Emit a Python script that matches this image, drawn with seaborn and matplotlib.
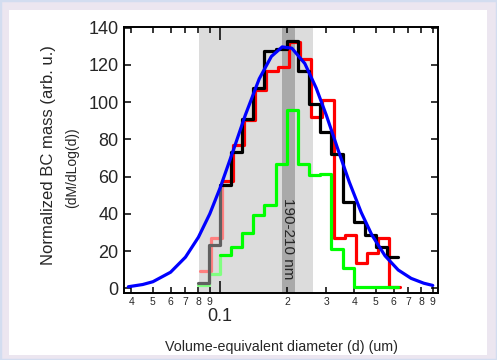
import numpy as np
import pandas as pd
import matplotlib
matplotlib.use("Agg")
import matplotlib.pyplot as plt
import seaborn as sns
from matplotlib.ticker import FixedLocator, FixedFormatter
from matplotlib.patches import Rectangle

# ---------------- data ----------------
bin_edges = [0.0794, 0.0891, 0.1, 0.112, 0.126, 0.141, 0.158, 0.178, 0.2,
             0.224, 0.251, 0.282, 0.316, 0.355, 0.398, 0.447, 0.501, 0.562, 0.631]
red_bin_edges = [0.081, 0.091, 0.102, 0.1145, 0.1285, 0.144, 0.1615, 0.1815,
                 0.204, 0.229, 0.256, 0.288, 0.323, 0.362, 0.406, 0.456,
                 0.511, 0.573, 0.643]
black_vals = [2.7, 23.0, 55.4, 73.4, 91.1, 107.8, 127.4, 128.5, 133.0, 117.0,
              99.2, 84.0, 72.4, 46.1, 35.7, 28.6, 22.3, 16.6]
red_vals = [9.3, 26.8, 57.7, 76.8, 90.2, 106.3, 117.0, 118.8, 132.2, 123.3,
            92.0, 101.0, 26.8, 28.6, 13.4, 19.1, 26.8, 0.9]
green_vals = [1.8, 7.5, 17.9, 22.0, 29.8, 39.3, 44.7, 66.6, 95.6, 67.0,
              60.7, 61.6, 21.0, 10.7, 0.5, 0.5, 0.5, 0.5]
n_faded_bins = 2

fit_d = [0.0388, 0.045, 0.05, 0.06, 0.07, 0.08, 0.09, 0.1, 0.115, 0.13, 0.15,
         0.17, 0.19, 0.21, 0.24, 0.27, 0.30, 0.34, 0.38, 0.43, 0.48, 0.55,
         0.63, 0.72, 0.82, 0.90]
fit_vals = [0.8, 2.0, 3.5, 8.6, 16.7, 27.4, 40.0, 53.8, 74.5, 93.2, 112.6,
            124.6, 129.7, 129.0, 120.8, 107.6, 92.9, 73.7, 57.1, 40.7, 28.6,
            17.4, 9.8, 5.3, 2.7, 1.5]

wide_band = [0.0805, 0.262]
narrow_band = [0.189, 0.217]
band_label = "190-210 nm"

y_ticks = [0, 20, 40, 60, 80, 100, 120, 140]
major_x_ticks = [0.1]
major_x_labels = ["0.1"]
minor_x_ticks = [0.04, 0.05, 0.06, 0.07, 0.08, 0.09,
                 0.2, 0.3, 0.4, 0.5, 0.6, 0.7, 0.8, 0.9]
minor_x_labels = ["4", "5", "6", "7", "8", "9",
                  "2", "3", "4", "5", "6", "7", "8", "9"]

x_label = "Volume-equivalent diameter (d) (um)"
y_label_1 = "Normalized BC mass (arb. u.)"
y_label_2 = "(dM/dLog(d))"

# ---------------- figure ----------------
sns.set_style("ticks")
plt.rcParams["font.family"] = ["Liberation Sans", "DejaVu Sans"]

W, H = 497, 360
fig = plt.figure(figsize=(W / 100, H / 100), dpi=100)
fig.patch.set_facecolor("#ECE6F0")
fig.patches.append(Rectangle((0, 0), 1, 1, transform=fig.transFigure,
                             facecolor="none", edgecolor="#D3DDF0", lw=2.5,
                             zorder=-10))
fig.patches.append(Rectangle((9 / W, 1 - 355 / H), 478 / W, 345 / H,
                             transform=fig.transFigure, facecolor="white",
                             edgecolor="none", zorder=-10))

ax = fig.add_axes([124 / W, 1 - 292.7 / H, 314 / W, 265.7 / H])
ax.set_facecolor("white")
ax.set_xscale("log")

ax.axvspan(wide_band[0], wide_band[1], color="#DCDCDC", lw=0, zorder=0)
ax.axvspan(narrow_band[0], narrow_band[1], color="#A9A9A9", lw=0, zorder=0)

LW = 2.3


def draw_series(edges, vals, faded_color, color, z):
    k = n_faded_bins
    faded = pd.DataFrame({"d": edges[:k + 1], "v": vals[:k + 1]})
    solid = pd.DataFrame({"d": edges[k:], "v": vals[k:] + [vals[-1]]})
    sns.lineplot(data=faded, x="d", y="v", ax=ax, color=faded_color, lw=LW,
                 drawstyle="steps-post", estimator=None, sort=False,
                 legend=False, zorder=z)
    sns.lineplot(data=solid, x="d", y="v", ax=ax, color=color, lw=LW,
                 drawstyle="steps-post", estimator=None, sort=False,
                 legend=False, zorder=z)


draw_series(red_bin_edges, red_vals, "#FF8080", "#FF0000", 3)
draw_series(bin_edges, green_vals, "#80FF80", "#00FF00", 4)
draw_series(bin_edges, black_vals, "#606060", "#000000", 5)

fit_df = pd.DataFrame({"d": fit_d, "v": fit_vals})
sns.lineplot(data=fit_df, x="d", y="v", ax=ax, color="#0000FF", lw=LW,
             estimator=None, sort=False, legend=False, zorder=6)

ax.text(np.sqrt(narrow_band[0] * narrow_band[1]), 26.5, band_label,
        rotation=270, ha="center", va="center", fontsize=11, zorder=7)

ax.set_xlim(0.0371, 0.95)
ax.set_ylim(-2.4, 140.4)

ax.xaxis.set_major_locator(FixedLocator(major_x_ticks))
ax.xaxis.set_major_formatter(FixedFormatter(major_x_labels))
ax.xaxis.set_minor_locator(FixedLocator(minor_x_ticks))
ax.xaxis.set_minor_formatter(FixedFormatter(minor_x_labels))
ax.set_yticks(y_ticks)

ax.tick_params(axis="both", which="both", direction="in", top=True, right=True,
               color="black", width=1.1)
ax.tick_params(axis="x", which="major", length=9, pad=11, labelsize=13)
ax.tick_params(axis="x", which="minor", length=4.5, pad=3, labelsize=7.5)
ax.tick_params(axis="y", which="major", length=5, pad=4, labelsize=13)
ax.tick_params(axis="y", which="minor", length=0)

for s in ax.spines.values():
    s.set_visible(True)
    s.set_color("black")
    s.set_linewidth(1.4)

ax.set_xlabel("")
ax.set_ylabel("")
fig.text(281.5 / W, 1 - 346.5 / H, x_label, ha="center", va="center",
         fontsize=10.3)
fig.text(49 / W, 1 - 155 / H, y_label_1, rotation=90, ha="center", va="center",
         fontsize=12)
fig.text(72 / W, 1 - 167.5 / H, y_label_2, rotation=90, ha="center",
         va="center", fontsize=10)

fig.savefig("out.png", dpi=100, facecolor=fig.get_facecolor())
